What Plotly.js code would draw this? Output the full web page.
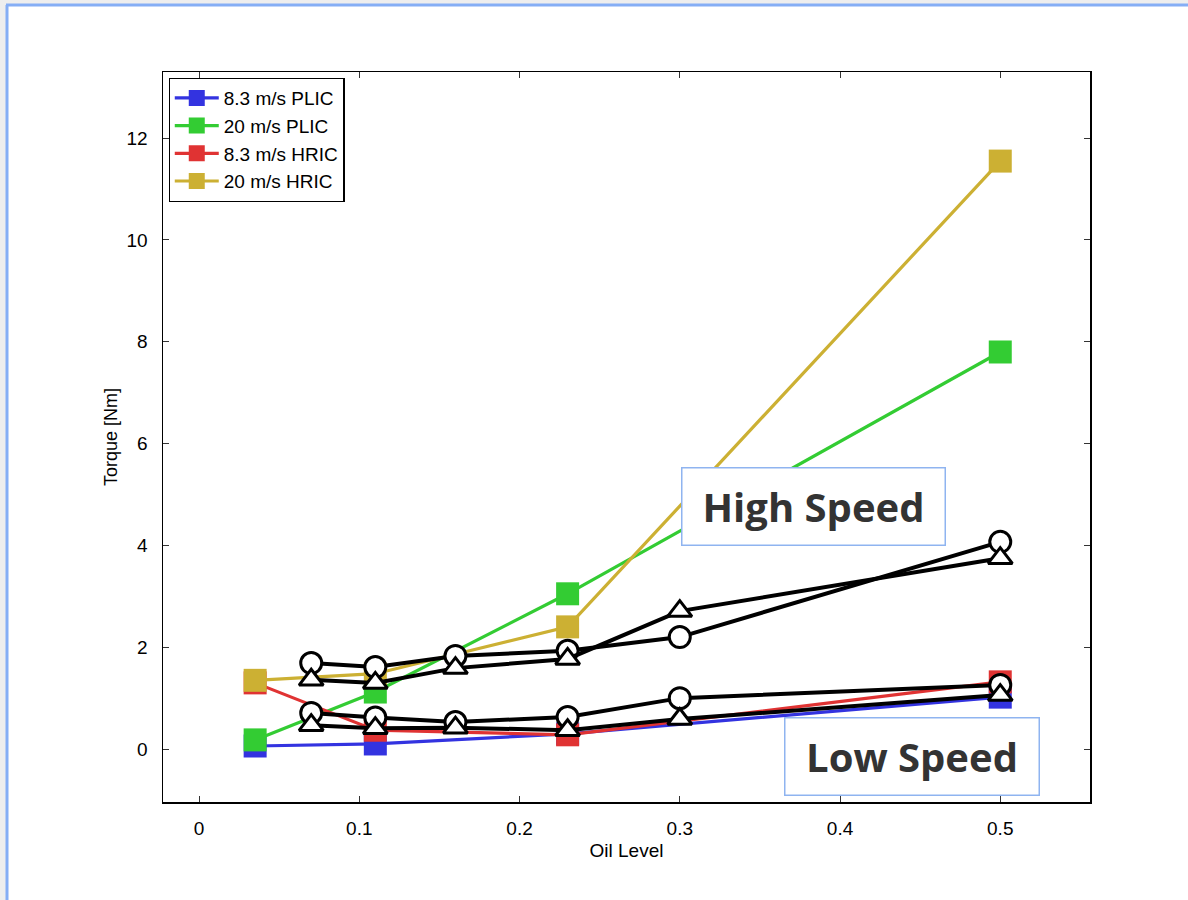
<!DOCTYPE html>
<html>
<head>
<meta charset="utf-8">
<script src="https://cdn.plot.ly/plotly-3.0.1.min.js"></script>
<style>
html,body{margin:0;padding:0;background:#fff;}
#chart{width:1188px;height:900px;}
</style>
</head>
<body>
<div id="chart"></div>
<script>
// Colored series (squares)
const xColored = [0.035, 0.11, 0.23, 0.5];
const plic83 = [0.06, 0.10, 0.30, 1.02];
const plic20 = [0.18, 1.12, 3.05, 7.80];
const hric83 = [1.30, 0.37, 0.28, 1.32];
const hric20 = [1.35, 1.48, 2.40, 11.55];
const colorNames = ['8.3 m/s PLIC', '20 m/s PLIC', '8.3 m/s HRIC', '20 m/s HRIC'];

// Black series (circles / triangles)
const xBlack = [0.07, 0.11, 0.16, 0.23, 0.30, 0.50];
const highCircle = [1.69, 1.61, 1.83, 1.93, 2.20, 4.07];
const highTriangle = [1.36, 1.30, 1.59, 1.77, 2.71, 3.75];
const lowCircle = [0.71, 0.62, 0.53, 0.63, 1.00, 1.26];
const lowTriangle = [0.47, 0.41, 0.42, 0.37, 0.59, 1.06];

const xTicks = [0, 0.1, 0.2, 0.3, 0.4, 0.5];
const xTickText = ['0', '0.1', '0.2', '0.3', '0.4', '0.5'];
const yTicks = [0, 2, 4, 6, 8, 10, 12];

const colors = ['#3333e0', '#33cc33', '#e03333', '#ccb033'];
const coloredData = [plic83, plic20, hric83, hric20];

const traces = [];
coloredData.forEach((ys, i) => {
  traces.push({
    x: xColored, y: ys, name: colorNames[i], type: 'scatter', mode: 'lines+markers',
    line: {color: colors[i], width: 3.2},
    marker: {symbol: 'square', size: 23, color: colors[i]}
  });
});
[[highCircle, 'circle'], [highTriangle, 'triangle-up'], [lowCircle, 'circle'], [lowTriangle, 'triangle-up']].forEach(([ys, sym]) => {
  traces.push({
    x: xBlack, y: ys, type: 'scatter', mode: 'lines+markers', showlegend: false,
    line: {color: '#000', width: 4},
    marker: {symbol: sym, size: 21, color: '#fff', line: {color: '#000', width: 3}}
  });
});

// paper coordinate helpers (plot area 163..1090 x 72..802)
const px = v => (v - 163) / 927;
const py = v => (802 - v) / 730;

const layout = {
  width: 1188, height: 900,
  margin: {l: 163, r: 98, t: 72, b: 98},
  paper_bgcolor: '#fff', plot_bgcolor: '#fff',
  font: {family: 'Liberation Sans, Arial, sans-serif', size: 17, color: '#000'},
  showlegend: true,
  legend: {
    x: 0.006, y: 0.992, xanchor: 'left', yanchor: 'top',
    bgcolor: '#fff', bordercolor: '#000', borderwidth: 1.2,
    font: {family: 'Liberation Sans, Arial, sans-serif', size: 19, color: '#000'},
    tracegroupgap: 0, itemwidth: 44
  },
  xaxis: {
    range: [-0.0225, 0.556], tickvals: xTicks, ticktext: xTickText,
    ticks: 'inside', ticklen: 6, tickcolor: '#333', tickwidth: 1,
    showline: true, linecolor: '#000', linewidth: 1.5, mirror: 'ticks',
    showgrid: false, zeroline: false,
    tickfont: {size: 19},
    ticklabelstandoff: 9,
    title: {text: 'Oil Level', font: {size: 19}, standoff: 5}
  },
  yaxis: {
    range: [-1.04, 13.3], tickvals: yTicks,
    ticks: 'inside', ticklen: 6, tickcolor: '#333', tickwidth: 1,
    showline: true, linecolor: '#000', linewidth: 1.5, mirror: 'ticks',
    showgrid: false, zeroline: false,
    tickfont: {size: 19},
    ticklabelstandoff: 10,
    title: {text: 'Torque [Nm]', font: {size: 18}, standoff: 4}
  },
  annotations: [
    {x: 0.3837, y: 4.77, xref: 'x', yref: 'y', text: '<b>High Speed</b>', showarrow: false,
     width: 262, height: 76, align: 'center', valign: 'middle',
     bgcolor: '#fff', bordercolor: '#8fb4f0', borderwidth: 1.5, borderpad: 0,
     font: {family: 'Open Sans, Lato, sans-serif', size: 40, color: '#333'}},
    {x: 0.445, y: -0.14, xref: 'x', yref: 'y', text: '<b>Low Speed</b>', showarrow: false,
     width: 253, height: 76, align: 'center', valign: 'middle',
     bgcolor: '#fff', bordercolor: '#8fb4f0', borderwidth: 1.5, borderpad: 0,
     font: {family: 'Open Sans, Lato, sans-serif', size: 40, color: '#333'}}
  ],
  shapes: [
    {type: 'rect', xref: 'paper', yref: 'paper', x0: px(0), x1: px(1188), y0: py(5), y1: py(0), fillcolor: '#eeeeee', line: {width: 0}, layer: 'below'},
    {type: 'rect', xref: 'paper', yref: 'paper', x0: px(0), x1: px(7), y0: py(900), y1: py(0), fillcolor: '#eeeeee', line: {width: 0}, layer: 'below'},
    {type: 'line', xref: 'paper', yref: 'paper', x0: px(6), x1: px(1188), y0: py(5), y1: py(5), line: {color: '#85aef5', width: 3}},
    {type: 'line', xref: 'paper', yref: 'paper', x0: px(7), x1: px(7), y0: py(5), y1: py(900), line: {color: '#85aef5', width: 3}}
  ]
};

Plotly.newPlot('chart', traces, layout, {displayModeBar: false, staticPlot: true});
</script>
</body>
</html>
